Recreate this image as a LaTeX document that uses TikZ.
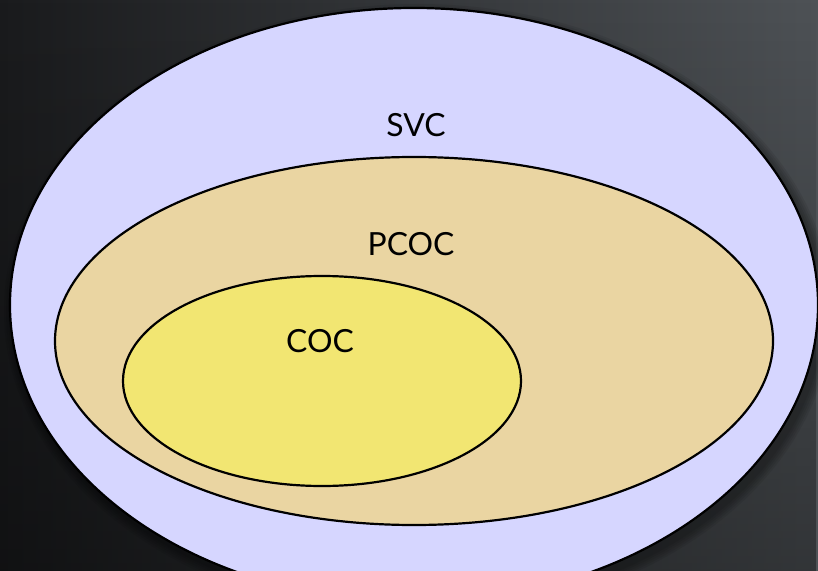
\documentclass[tikz,border=0pt]{standalone}
\usepackage{fontspec}
\setmainfont{Lato}
\usetikzlibrary{shapes.geometric,fadings}
\definecolor{bgdark}{RGB}{26,27,29}
\definecolor{bgmid}{RGB}{52,54,57}
\definecolor{bglight}{RGB}{78,82,86}
\definecolor{svcfill}{RGB}{214,214,255}
\definecolor{pcocfill}{RGB}{234,213,162}
\definecolor{cocfill}{RGB}{242,230,114}
\tikzset{
  set/.style={ellipse, draw=black, line width=2.2bp, inner sep=0pt},
  setlabel/.style={font=\fontsize{32}{38}\selectfont, text=black, inner sep=0pt}
}
\begin{document}
\begin{tikzpicture}[x=1bp, y=-1bp]
  % dark backdrop, darker towards the left and a little towards the bottom
  \shade[left color=bgdark, middle color=bgmid, right color=bglight] (0,0) rectangle (818,571);
  \fill[black, opacity=0.35, path fading=north] (0,0) rectangle (818,571);
  \useasboundingbox (0,0) rectangle (818,571);
  \begin{scope}
    \clip (0,0) rectangle (818,571);
    % soft shadow under the outer set
    \foreach \g in {10,8,6,4,2}
      \fill[black, opacity=0.07] (418,311) ellipse ({404+\g} and {297+\g});
    % nested sets
    \node[set, fill=svcfill, minimum width=808bp, minimum height=594bp] (svc) at (414,305) {};
    \node[set, fill=pcocfill, minimum width=718bp, minimum height=368bp] (pcoc) at (414,341) {};
    \node[set, fill=cocfill, minimum width=398bp, minimum height=210bp] (coc) at (322,381) {};
  \end{scope}
  \node[setlabel] (svclabel) at (416,125) {SVC};
  \node[setlabel] (pcoclabel) at (411,244) {PCOC};
  \node[setlabel] (coclabel) at (320,341) {COC};
\end{tikzpicture}
\end{document}
